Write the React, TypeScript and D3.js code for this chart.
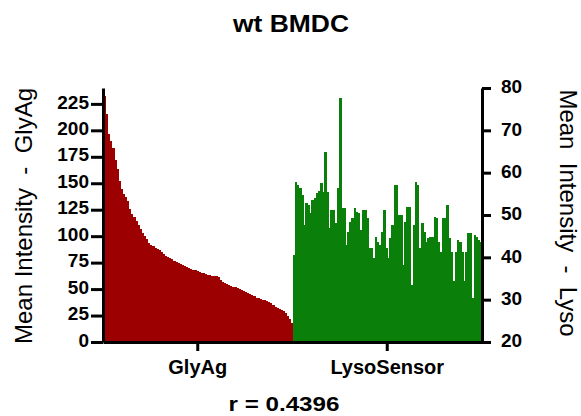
import React, { useEffect, useRef } from 'react';
import * as d3 from 'd3';

// GlyAg mean intensity per cell, sorted high to low (left axis)
const glyAg = [
  232, 215, 197, 190, 183, 172, 163, 152, 145, 140,
  137, 133, 126, 121, 118, 114, 111, 107, 103, 100,
  97, 94, 92, 91, 89, 88, 87, 85, 83, 81,
  80, 79, 78, 77, 76, 75, 74, 73, 72, 71,
  70, 69, 68, 68, 67, 66, 65, 65, 64, 63,
  63, 62, 62, 62, 61, 59, 57, 56, 55, 54,
  53, 52, 52, 51, 50, 49, 48, 47, 46, 45,
  44, 43, 42, 42, 41, 40, 40, 39, 38, 37,
  35, 33, 32, 31, 30, 29, 27, 25, 22, 18,
];

// LysoSensor mean intensity for the same cells (right axis)
const lyso = [
  40.6, 57.9, 57.1, 56.3, 54.7, 47.6, 52.8, 52.4, 50.4, 53.5,
  53.9, 55.1, 55.7, 57.5, 55.5, 65, 55.5, 46.9, 51.2, 51.2,
  48, 56.3, 77.6, 51.6, 51.6, 42.9, 46, 48.4, 49.2, 51.6,
  50.8, 50.4, 46.5, 51.2, 51.2, 49.2, 42.1, 42.1, 39.8, 44.9,
  43.7, 42.9, 46, 51.2, 42.1, 39.8, 44.5, 47.6, 57.1, 57.1,
  50, 50, 38.2, 48.4, 52, 52, 33.5, 47.6, 57.9, 57.1,
  42.1, 48, 46, 43.7, 44.5, 44.9, 44.9, 49.6, 49.2, 43.7,
  41.3, 49.2, 49.2, 52.4, 44.5, 41.3, 34.3, 41.3, 44.1, 43.7,
  41.3, 34.3, 41.3, 45.7, 45.7, 30.3, 45.3, 44.9, 44.1, 43.7,
];

const groups = ['GlyAg', 'LysoSensor'];
const leftTicks = [0, 25, 50, 75, 100, 125, 150, 175, 200, 225];
const rightTicks = [20, 30, 40, 50, 60, 70, 80];

const W = 581;
const H = 416;

export default function App() {
  const ref = useRef<SVGSVGElement>(null);

  useEffect(() => {
    if (!ref.current) return;
    const svg = d3.select(ref.current);
    svg.selectAll('*').remove();

    const left = 103, right = 482, top = 88, bottom = 342;
    const font = 'Arial, "Liberation Sans", sans-serif';

    const x = d3.scaleBand<string>().domain(groups).range([left, right]).padding(0);
    const yL = d3.scaleLinear().domain([0, 240]).range([bottom, top]);
    const yR = d3.scaleLinear().domain([20, 80]).range([bottom, top]);

    const xRed = d3.scaleBand<number>()
      .domain(d3.range(glyAg.length))
      .range([x('GlyAg')!, x('GlyAg')! + x.bandwidth()]);
    const xGreen = d3.scaleBand<number>()
      .domain(d3.range(lyso.length))
      .range([x('LysoSensor')!, x('LysoSensor')! + x.bandwidth()]);

    svg.append('g')
      .attr('shape-rendering', 'crispEdges')
      .selectAll('rect')
      .data(glyAg)
      .enter()
      .append('rect')
      .attr('x', (_, i) => xRed(i)!)
      .attr('y', d => yL(d))
      .attr('width', xRed.bandwidth() + 1)
      .attr('height', d => yL(0) - yL(d))
      .attr('fill', '#9c0000');

    svg.append('g')
      .attr('shape-rendering', 'crispEdges')
      .selectAll('rect')
      .data(lyso)
      .enter()
      .append('rect')
      .attr('x', (_, i) => xGreen(i)!)
      .attr('y', d => yR(d))
      .attr('width', xGreen.bandwidth() + 0.6)
      .attr('height', d => yR(20) - yR(d))
      .attr('fill', '#0a800a');

    const styleAxis = (g: d3.Selection<SVGGElement, unknown, null, undefined>, size: string) => {
      g.selectAll('.domain').attr('stroke', '#000').attr('stroke-width', 3);
      g.selectAll('.tick line').attr('stroke', '#000').attr('stroke-width', 3);
      g.selectAll('.tick text')
        .attr('fill', '#000')
        .style('font-family', font)
        .style('font-size', size)
        .style('font-weight', 'bold');
    };

    const gl = svg.append('g')
      .attr('transform', `translate(${left},0)`)
      .call(d3.axisLeft(yL).tickValues(leftTicks).tickSize(12).tickSizeOuter(0).tickPadding(2));
    styleAxis(gl, '19px');
    gl.selectAll('.tick text').attr('dy', '0.22em');

    const gr = svg.append('g')
      .attr('transform', `translate(${right},0)`)
      .call(d3.axisRight(yR).tickValues(rightTicks).tickSize(9).tickSizeOuter(0).tickPadding(10));
    styleAxis(gr, '19px');
    gr.selectAll('.tick text').attr('dy', '0.25em');

    const gb = svg.append('g')
      .attr('transform', `translate(0,${bottom})`)
      .call(d3.axisBottom(x).tickSize(9).tickSizeOuter(0).tickPadding(9));
    styleAxis(gb, '20px');

    svg.append('text')
      .attr('x', 291)
      .attr('y', 32)
      .attr('text-anchor', 'middle')
      .attr('textLength', 116)
      .attr('lengthAdjust', 'spacingAndGlyphs')
      .style('font-family', font)
      .style('font-size', '23px')
      .style('font-weight', 'bold')
      .text('wt BMDC');

    svg.append('text')
      .attr('transform', 'translate(32,216) rotate(-90)')
      .attr('text-anchor', 'middle')
      .style('font-family', font)
      .style('font-size', '24px')
      .style('white-space', 'pre')
      .text('Mean Intensity  -  GlyAg');

    svg.append('text')
      .attr('transform', 'translate(560,213) rotate(90)')
      .attr('text-anchor', 'middle')
      .style('font-family', font)
      .style('font-size', '24px')
      .style('white-space', 'pre')
      .text('Mean  Intensity  -  Lyso');

    svg.append('text')
      .attr('x', 284)
      .attr('y', 411)
      .attr('text-anchor', 'middle')
      .attr('textLength', 111)
      .attr('lengthAdjust', 'spacingAndGlyphs')
      .style('font-family', font)
      .style('font-size', '21px')
      .style('font-weight', 'bold')
      .text('r = 0.4396');
  }, []);

  return (
    <div style={{ position: 'absolute', left: 0, top: 0, background: '#fff' }}>
      <svg ref={ref} width={W} height={H} style={{ display: 'block' }} />
    </div>
  );
}
